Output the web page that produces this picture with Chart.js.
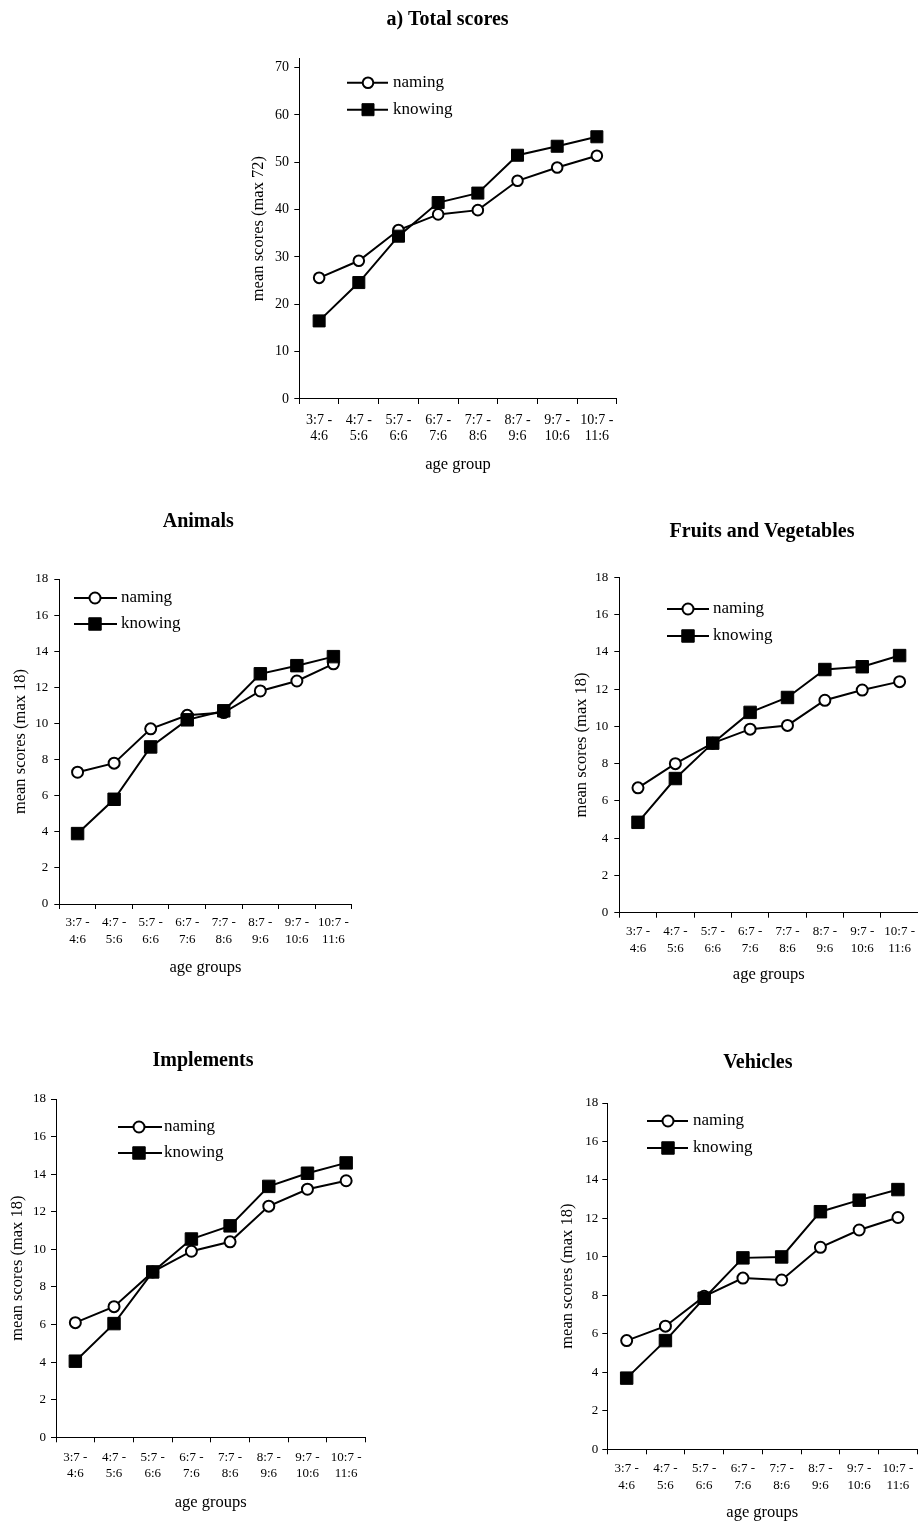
<!DOCTYPE html>
<html>
<head>
<meta charset="utf-8">
<title>Naming and knowing scores by age group</title>
<script src="https://cdn.jsdelivr.net/npm/chart.js@4.4.1/dist/chart.umd.min.js"></script>
<style>
  html, body { margin: 0; padding: 0; background: #fff; overflow: hidden; width: 918px; height: 1525px; }
  canvas { position: absolute; left: 0; top: 0; }
</style>
</head>
<body>
<canvas id="cTotal"></canvas>
<canvas id="cAnimals"></canvas>
<canvas id="cFruits"></canvas>
<canvas id="cImplements"></canvas>
<canvas id="cVehicles"></canvas>
<script>
// Age groups (years:months), shown on two lines each
const ageGroups = [
  ['3:7 -', '4:6'], ['4:7 -', '5:6'], ['5:7 -', '6:6'], ['6:7 -', '7:6'],
  ['7:7 -', '8:6'], ['8:7 -', '9:6'], ['9:7 -', '10:6'], ['10:7 -', '11:6']
];
const seriesNames = ['naming', 'knowing'];

// Mean scores, total (max 72)
const totalNaming  = [25.6, 29.2, 35.7, 39.0, 39.9, 46.1, 48.9, 51.4];
const totalKnowing = [16.5, 24.6, 34.4, 41.5, 43.5, 51.5, 53.4, 55.4];

// Mean scores per category (max 18)
const animalsNaming     = [7.3, 7.8, 9.7, 10.45, 10.6, 11.8, 12.35, 13.3];
const animalsKnowing    = [3.9, 5.8, 8.7, 10.2, 10.7, 12.75, 13.2, 13.7];
const fruitsNaming      = [6.7, 8.0, 9.1, 9.85, 10.05, 11.4, 11.95, 12.4];
const fruitsKnowing     = [4.85, 7.2, 9.1, 10.75, 11.55, 13.05, 13.2, 13.8];
const implementsNaming  = [6.1, 6.95, 8.8, 9.9, 10.4, 12.3, 13.2, 13.65];
const implementsKnowing = [4.05, 6.05, 8.8, 10.55, 11.25, 13.35, 14.05, 14.6];
const vehiclesNaming    = [5.65, 6.4, 7.95, 8.9, 8.8, 10.5, 11.4, 12.05];
const vehiclesKnowing   = [3.7, 5.65, 7.85, 9.95, 10.0, 12.35, 12.95, 13.5];

// Y-axis ranges and tick steps
const totalAxis = { max: 72, step: 10 };
const categoryAxis = { max: 18, step: 2 };

const SERIF = '"Liberation Serif", "Times New Roman", Times, serif';
const CANVAS_W = 930, CANVAS_H = 1525;

// Panel heading and in-plot key (line + marker + label) drawn on the canvas
const panelText = {
  id: 'panelText',
  afterDraw(chart, args, o) {
    const ctx = chart.ctx;
    ctx.save();
    ctx.fillStyle = '#000';
    ctx.font = 'bold ' + o.size + 'px ' + SERIF;
    ctx.textAlign = 'center';
    ctx.textBaseline = 'middle';
    ctx.fillText(o.text, o.x, o.y);

    const lg = o.legend;
    ctx.font = lg.size + 'px ' + SERIF;
    ctx.textAlign = 'left';
    const order = [0, 1];
    order.forEach((i) => {
      const ds = chart.data.datasets[i];
      const y = lg.rows[i];
      ctx.strokeStyle = ds.borderColor;
      ctx.lineWidth = ds.borderWidth;
      ctx.beginPath();
      ctx.moveTo(lg.x0, y);
      ctx.lineTo(lg.x1, y);
      ctx.stroke();
      ctx.fillStyle = ds.pointBackgroundColor;
      ctx.strokeStyle = ds.pointBorderColor;
      ctx.lineWidth = ds.pointBorderWidth;
      ctx.beginPath();
      if (ds.pointStyle === 'rect') {
        const h = Math.SQRT1_2 * ds.pointRadius;
        ctx.rect(lg.mx - h, y - h, 2 * h, 2 * h);
      } else {
        ctx.arc(lg.mx, y, ds.pointRadius, 0, Math.PI * 2);
      }
      ctx.fill();
      ctx.stroke();
      ctx.fillStyle = '#000';
      ctx.fillText(ds.label, lg.tx, y);
    });
    ctx.restore();
  }
};

function axisLine() {
  return {
    display: true, drawOnChartArea: false, drawTicks: true, tickLength: 5,
    color: '#000', tickColor: '#000', lineWidth: 1
  };
}

function makePanel(canvasId, p) {
  const cv = document.getElementById(canvasId);
  cv.width = CANVAS_W;
  cv.height = CANVAS_H;
  cv.style.width = CANVAS_W + 'px';
  cv.style.height = CANVAS_H + 'px';
  new Chart(cv, {
    type: 'line',
    data: {
      labels: ageGroups,
      datasets: [
        {
          label: seriesNames[0], data: p.naming, order: 1,
          borderColor: '#000', borderWidth: 2, tension: 0, fill: false,
          pointStyle: 'circle', pointRadius: p.circleR,
          pointBackgroundColor: '#fff', pointBorderColor: '#000', pointBorderWidth: 2
        },
        {
          label: seriesNames[1], data: p.knowing, order: 0,
          borderColor: '#000', borderWidth: 2, tension: 0, fill: false,
          pointStyle: 'rect', pointRadius: p.rectR,
          pointBackgroundColor: '#000', pointBorderColor: '#000', pointBorderWidth: 1
        }
      ]
    },
    options: {
      responsive: false,
      animation: false,
      devicePixelRatio: 1,
      events: [],
      layout: {
        padding: {
          left: p.area.l - p.yW,
          top: p.area.t,
          right: CANVAS_W - p.area.r,
          bottom: CANVAS_H - p.area.b - p.xH
        }
      },
      plugins: {
        legend: { display: false },
        tooltip: { enabled: false },
        title: { display: false },
        panelText: { text: p.title, x: p.titleX, y: p.titleY, size: 20, legend: p.legend }
      },
      scales: {
        x: {
          type: 'category',
          offset: true,
          grid: Object.assign(axisLine(), { offset: true }),
          border: { display: true, color: '#000', width: 1 },
          ticks: {
            color: '#000', autoSkip: false, maxRotation: 0, minRotation: 0,
            padding: p.xTickPad,
            font: { family: SERIF, size: p.xTickSize, lineHeight: p.xTickLH }
          },
          title: {
            display: true, text: p.xTitle, color: '#000', padding: 0,
            font: { family: SERIF, size: 16.5, lineHeight: 1.2 }
          },
          afterFit(s) { s.height = p.xH; }
        },
        y: {
          type: 'linear',
          min: 0,
          max: p.axis.max,
          grid: axisLine(),
          border: { display: true, color: '#000', width: 1 },
          ticks: {
            stepSize: p.axis.step, includeBounds: false, color: '#000',
            padding: p.yTickPad,
            font: { family: SERIF, size: p.yTickSize }
          },
          title: {
            display: true, text: p.yTitle, color: '#000', padding: 0,
            font: { family: SERIF, size: 16.5, lineHeight: 1.2 }
          },
          afterFit(s) { s.width = p.yW; }
        }
      }
    },
    plugins: [panelText]
  });
}

makePanel('cTotal', {
  title: 'a) Total scores', titleX: 447.5, titleY: 20,
  naming: totalNaming, knowing: totalKnowing, axis: totalAxis,
  yTitle: 'mean scores (max 72)', xTitle: 'age group',
  area: { l: 299.3, t: 58.2, r: 616.7, b: 399 }, yW: 50.9, xH: 75.9,
  xTickPad: 7.6, xTickSize: 14, xTickLH: 1.2, yTickPad: 5.3, yTickSize: 14,
  circleR: 5.3, rectR: 8.5,
  legend: { x0: 347, x1: 388, mx: 368, tx: 393, rows: [82.7, 109.7], size: 17 }
});

makePanel('cAnimals', {
  title: 'Animals', titleX: 198.3, titleY: 522,
  naming: animalsNaming, knowing: animalsKnowing, axis: categoryAxis,
  yTitle: 'mean scores (max 18)', xTitle: 'age groups',
  area: { l: 59.3, t: 579, r: 351.7, b: 904 }, yW: 48.8, xH: 73.9,
  xTickPad: 5.7, xTickSize: 13, xTickLH: 1.28, yTickPad: 6, yTickSize: 13,
  circleR: 5.5, rectR: 8.8,
  legend: { x0: 74, x1: 117, mx: 95, tx: 121, rows: [598, 624], size: 17 }
});

makePanel('cFruits', {
  title: 'Fruits and Vegetables', titleX: 762, titleY: 531.7,
  naming: fruitsNaming, knowing: fruitsKnowing, axis: categoryAxis,
  yTitle: 'mean scores (max 18)', xTitle: 'age groups',
  area: { l: 619.3, t: 577.3, r: 918.3, b: 912.7 }, yW: 47.8, xH: 72.2,
  xTickPad: 6, xTickSize: 13, xTickLH: 1.28, yTickPad: 6, yTickSize: 13,
  circleR: 5.5, rectR: 8.8,
  legend: { x0: 667, x1: 709, mx: 688, tx: 713, rows: [609, 636], size: 17 }
});

makePanel('cImplements', {
  title: 'Implements', titleX: 203, titleY: 1060.7,
  naming: implementsNaming, knowing: implementsKnowing, axis: categoryAxis,
  yTitle: 'mean scores (max 18)', xTitle: 'age groups',
  area: { l: 56, t: 1099, r: 365.5, b: 1437.3 }, yW: 47.9, xH: 75.6,
  xTickPad: 7.7, xTickSize: 13, xTickLH: 1.23, yTickPad: 5, yTickSize: 13,
  circleR: 5.5, rectR: 8.8,
  legend: { x0: 118, x1: 162, mx: 139, tx: 164, rows: [1127, 1153], size: 17 }
});

makePanel('cVehicles', {
  title: 'Vehicles', titleX: 757.8, titleY: 1062.7,
  naming: vehiclesNaming, knowing: vehiclesKnowing, axis: categoryAxis,
  yTitle: 'mean scores (max 18)', xTitle: 'age groups',
  area: { l: 607.3, t: 1103, r: 917.3, b: 1449.3 }, yW: 49.2, xH: 73.6,
  xTickPad: 6.4, xTickSize: 13, xTickLH: 1.28, yTickPad: 4, yTickSize: 13,
  circleR: 5.5, rectR: 8.8,
  legend: { x0: 647, x1: 688, mx: 668, tx: 693, rows: [1121, 1148], size: 17 }
});
</script>
</body>
</html>
